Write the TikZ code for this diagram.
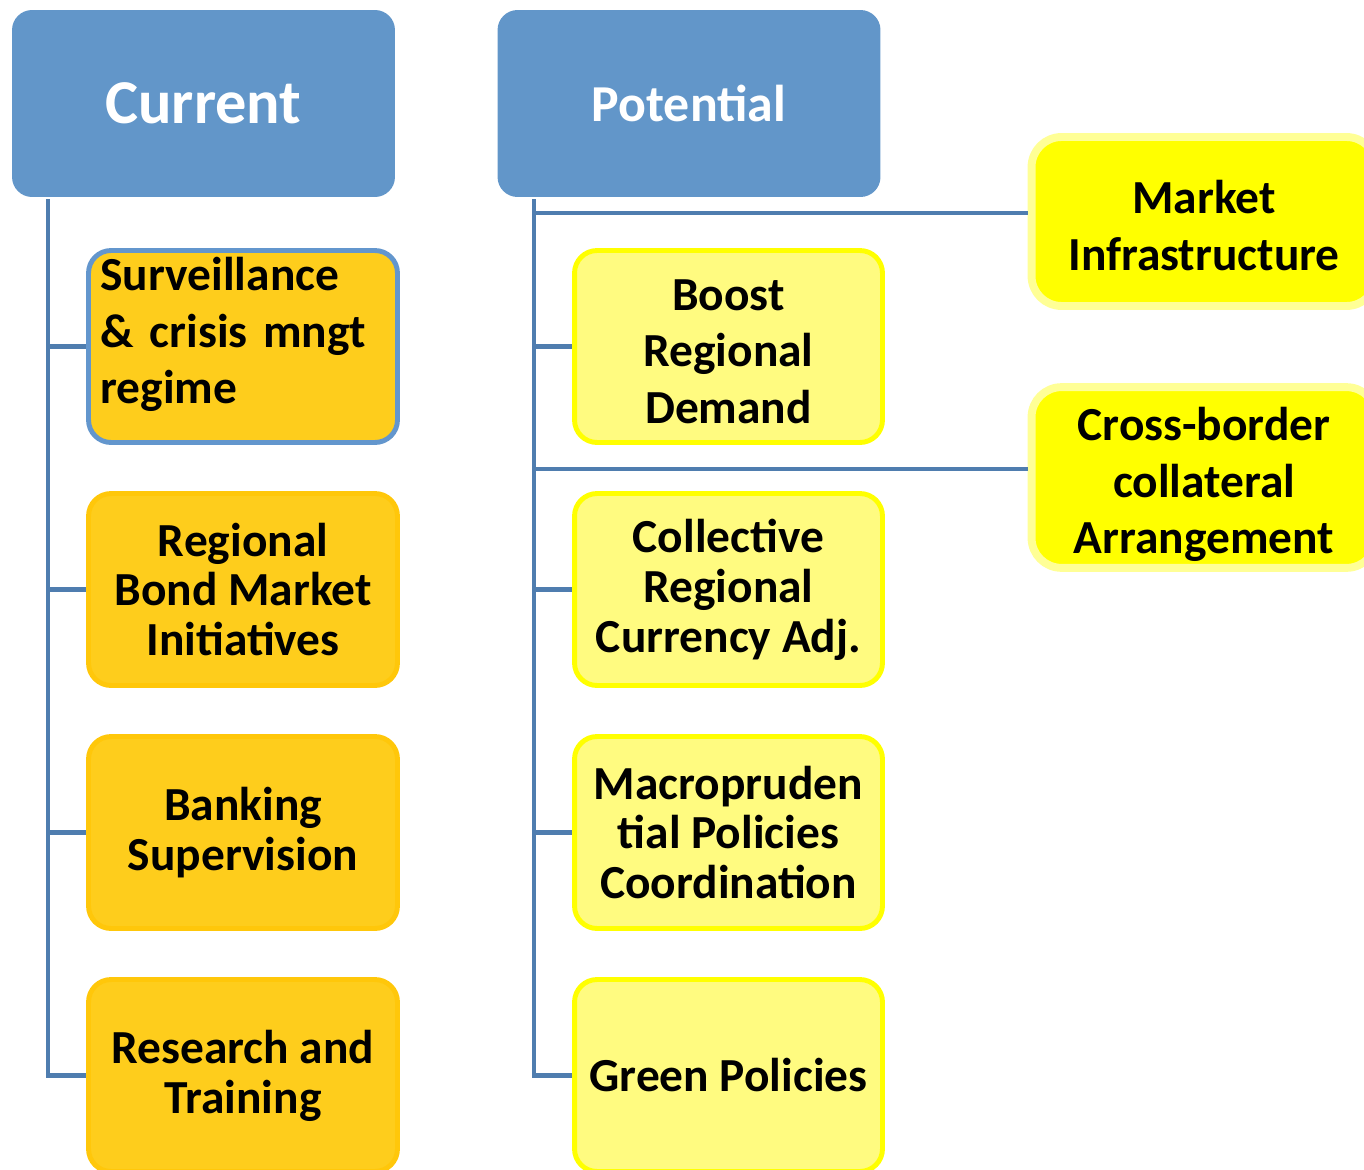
\documentclass[tikz,border=0pt]{standalone}
\usepackage{fontspec}
\setmainfont{Carlito}
\usetikzlibrary{positioning}

\definecolor{headblue}{RGB}{98,150,201}
\definecolor{linkblue}{RGB}{79,125,175}
\definecolor{edgeblue}{RGB}{99,150,205}
\definecolor{goldfill}{RGB}{254,205,28}
\definecolor{golddraw}{RGB}{255,199,10}
\definecolor{paleyellow}{RGB}{255,251,128}
\definecolor{brightyellow}{RGB}{255,255,0}
\definecolor{softyellow}{RGB}{255,255,150}

\begin{document}
\begin{tikzpicture}[x=0.02cm,y=-0.02cm]
    \tikzset{every node/.style={font=\bfseries, align=center, text=black}}
    \tikzset{headbox/.style={fill=headblue, rounded corners=0.4cm, minimum width=7.66cm, minimum height=3.74cm, text=white}}
    \tikzset{nowbox/.style={fill=goldfill, draw=golddraw, line width=2.8pt, rounded corners=0.45cm, minimum width=6.18cm, minimum height=3.84cm}}
    \tikzset{nextbox/.style={fill=paleyellow, draw=brightyellow, line width=2.8pt, rounded corners=0.45cm, minimum width=6.16cm, minimum height=3.84cm}}
    \tikzset{sidebox/.style={fill=brightyellow, draw=softyellow, line width=4.5pt, rounded corners=0.6cm, minimum width=6.9cm, minimum height=3.38cm}}
    \tikzset{tight/.style={font=\bfseries\fontsize{27}{28.4}\selectfont}}
    \tikzset{loose/.style={font=\bfseries\fontsize{27}{32.3}\selectfont}}
    \tikzset{link/.style={draw=linkblue, line width=2.8pt, line join=miter}}

    \useasboundingbox (0,0) rectangle (1364,1169);
    \clip (0,0) rectangle (1364,1169);

    % headings
    \node[headbox, font=\bfseries\fontsize{35.5}{40}\selectfont] (cur) at (203.5,103.5) {Current};
    \node[headbox, font=\bfseries\fontsize{29.5}{34}\selectfont] (pot) at (689,103.5) {Potential};

    % current column
    \node[nowbox, loose, draw=edgeblue, align=left, text width=5.7cm, inner xsep=0.24cm] (surv) at (243,346.5)
        {Surveillance\\ \& crisis mngt\\ regime\rule[-0.64cm]{0pt}{0pt}};
    \node[nowbox, tight] (bond) at (243,589.5) {Regional\\ Bond Market\\ Initiatives};
    \node[nowbox, tight] (bank) at (243,832.5) {Banking\\ Supervision};
    \node[nowbox, tight] (rsch) at (243,1075.5) {Research and\\ Training};

    % potential column
    \node[nextbox, loose] (boost) at (728.5,346.5) {\rule{0pt}{0.82cm}Boost\\ Regional\\ Demand};
    \node[nextbox, tight] (curr) at (728.5,589.5) {Collective\\ Regional\\ Currency Adj.};
    \node[nextbox, tight] (macro) at (728.5,832.5) {Macropruden\\ tial Policies\\ Coordination};
    \node[nextbox, tight] (green) at (728.5,1075.5) {Green Policies};

    \node[sidebox, loose] (infra) at (1204,221.5) {\rule{0pt}{0.83cm}Market\\ Infrastructure};
    \node[sidebox, loose] (coll) at (1204,477.5) {\rule{0pt}{0.95cm}Cross-border\\ collateral\\ Arrangement};

    % connectors
    \coordinate (lt) at (48,199);
    \coordinate (rt) at (534,199);
    \coordinate (rt1) at (534,213);
    \coordinate (rt2) at (534,469);

    \foreach \n in {surv,bond,bank,rsch}
        \draw[link] (lt) |- (\n.west);
    \foreach \n in {boost,curr,macro,green}
        \draw[link] (rt) |- (\n.west);
    \draw[link] (rt1) -- (rt1 -| infra.west);
    \draw[link] (rt2) -- (rt2 -| coll.west);
\end{tikzpicture}
\end{document}
